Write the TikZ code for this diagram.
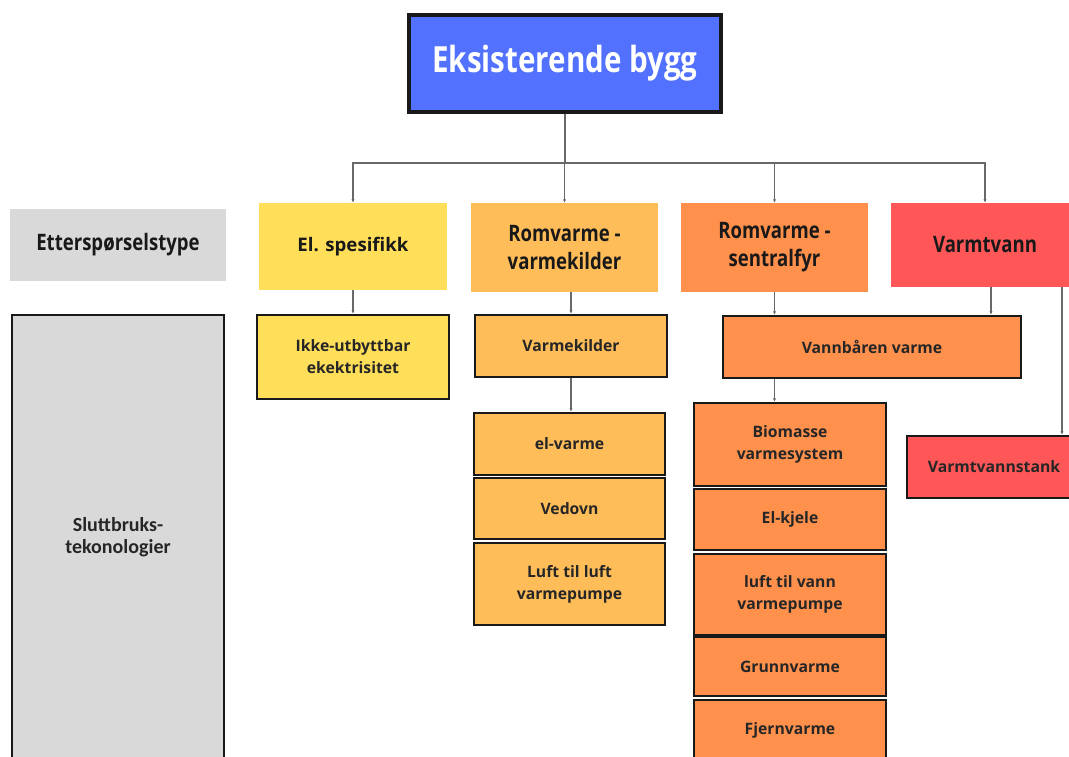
\documentclass[tikz,border=0pt]{standalone}
\usepackage{fontspec}
\setmainfont{Open Sans}
\newfontfamily\condfont{Open Sans}[FakeStretch=0.82]
\newfontfamily\calfont{Carlito}
\usepackage{tikz}
\usetikzlibrary{arrows.meta, positioning, calc}
\definecolor{byggblue}{RGB}{82,113,255}
\definecolor{elyellow}{RGB}{255,222,89}
\definecolor{kildeorange}{RGB}{255,189,89}
\definecolor{fyrorange}{RGB}{255,145,77}
\definecolor{vannred}{RGB}{255,87,87}
\definecolor{labelgray}{RGB}{217,217,217}
\definecolor{conngray}{RGB}{105,105,105}
\tikzset{
  boxsize/.style 2 args={minimum width=#1*0.75pt, minimum height=#2*0.75pt},
  hdr/.style={inner sep=0pt, align=center, text=black!90,
    font=\condfont\bfseries\fontsize{17}{21}\selectfont},
  tech/.style={draw=black!90, line width=1.9pt, inner sep=0pt, align=center,
    text=black!85, font=\bfseries\fontsize{11.8}{16.5}\selectfont},
  conn/.style={draw=conngray, line width=0.8pt, -{Latex[length=2.5pt,width=2.5pt]}}
}
\begin{document}
\begin{tikzpicture}[x=0.75pt, y=-0.75pt]
        \useasboundingbox (0,0) rectangle (1069,756);
        % Top node
        \node[draw=black!90, line width=2.6pt, fill=byggblue, boxsize={312}{97},
          text=white, font=\condfont\bfseries\fontsize{27}{32}\selectfont]
          (bygg) at (565,63.5) {Eksisterende bygg};
        % Demand types
        \node[hdr, fill=labelgray, boxsize={216}{72}] (etype) at (118,245) {Etterspørselstype};
        \node[hdr, fill=elyellow, boxsize={188}{87},
          font=\bfseries\fontsize{14}{18}\selectfont] (elspes) at (353,246.5) {El. spesifikk};
        \node[hdr, fill=kildeorange, boxsize={187}{89}] (rvkilde) at (564.5,247.5) {Romvarme -\\varmekilder};
        \node[hdr, fill=fyrorange, boxsize={187}{89}] (rvfyr) at (774.5,247.5) {Romvarme -\\sentralfyr};
        \node[hdr, fill=vannred, boxsize={188}{84}] (vvann) at (985,245) {Varmtvann};
        % End use technologies
        \node[tech, fill=labelgray, boxsize={212}{445},
          font=\calfont\bfseries\fontsize{15}{16.5}\selectfont] (slutt) at (118,537.5) {Sluttbruks-\\tekonologier};
        \node[tech, fill=elyellow, boxsize={192}{84}] (ikke) at (353,357) {Ikke-utbyttbar\\ekektrisitet};
        \node[tech, fill=kildeorange, boxsize={192}{62}] (vkilder) at (571,346) {Varmekilder};
        \node[tech, fill=fyrorange, boxsize={298}{62}] (vbaren) at (872,347) {Vannbåren varme};
        \node[tech, fill=vannred, boxsize={174}{62}] (vvtank) at (994,467) {Varmtvannstank};
        % Heat sources column
        \node[tech, fill=kildeorange, boxsize={191}{62}] (elvarme) at (569.5,444) {el-varme};
        \node[tech, fill=kildeorange, boxsize={191}{61}] (vedovn) at (569.5,508.5) {Vedovn};
        \node[tech, fill=kildeorange, boxsize={191}{82}] (luftluft) at (569.5,584) {Luft til luft\\varmepumpe};
        % Central heating column
        \node[tech, fill=fyrorange, boxsize={192}{83}] (bio) at (790,444.5) {Biomasse\\varmesystem};
        \node[tech, fill=fyrorange, boxsize={192}{61}] (elkjele) at (790,519.5) {El-kjele};
        \node[tech, fill=fyrorange, boxsize={192}{81}] (luftvann) at (790,594.5) {luft til vann\\varmepumpe};
        \node[tech, fill=fyrorange, boxsize={192}{59}] (grunn) at (790,666.5) {Grunnvarme};
        \node[tech, fill=fyrorange, boxsize={192}{60}] (fjern) at (790,730) {Fjernvarme};
        % Bus from top node
        \coordinate (bus) at (565,163);
        \draw[conngray, line width=0.8pt] (bygg.south) -- (bus);
        \foreach \n in {elspes,rvkilde,rvfyr,vvann}
          \draw[conn] (bus) -| (\n.north);
        % Second level
        \coordinate (vvleft) at ($(vvann.south)+(6,0)$);
        \coordinate (vvright) at ($(vvann.south)+(77,0)$);
        \draw[conn] (elspes.south) -- (ikke.north);
        \draw[conn] (vkilder.north |- rvkilde.south) -- (vkilder.north);
        \draw[conn] (rvfyr.south) -- (rvfyr.south |- vbaren.north);
        \draw[conn] (vvleft) -- (vvleft |- vbaren.north);
        \draw[conn] (vvright) -- (vvright |- vvtank.north);
        % Third level
        \draw[conn] (vkilder.south) -- (vkilder.south |- elvarme.north);
        \draw[conn] (vbaren.south -| rvfyr.south) -- (bio.north -| rvfyr.south);
      \end{tikzpicture}
\end{document}
